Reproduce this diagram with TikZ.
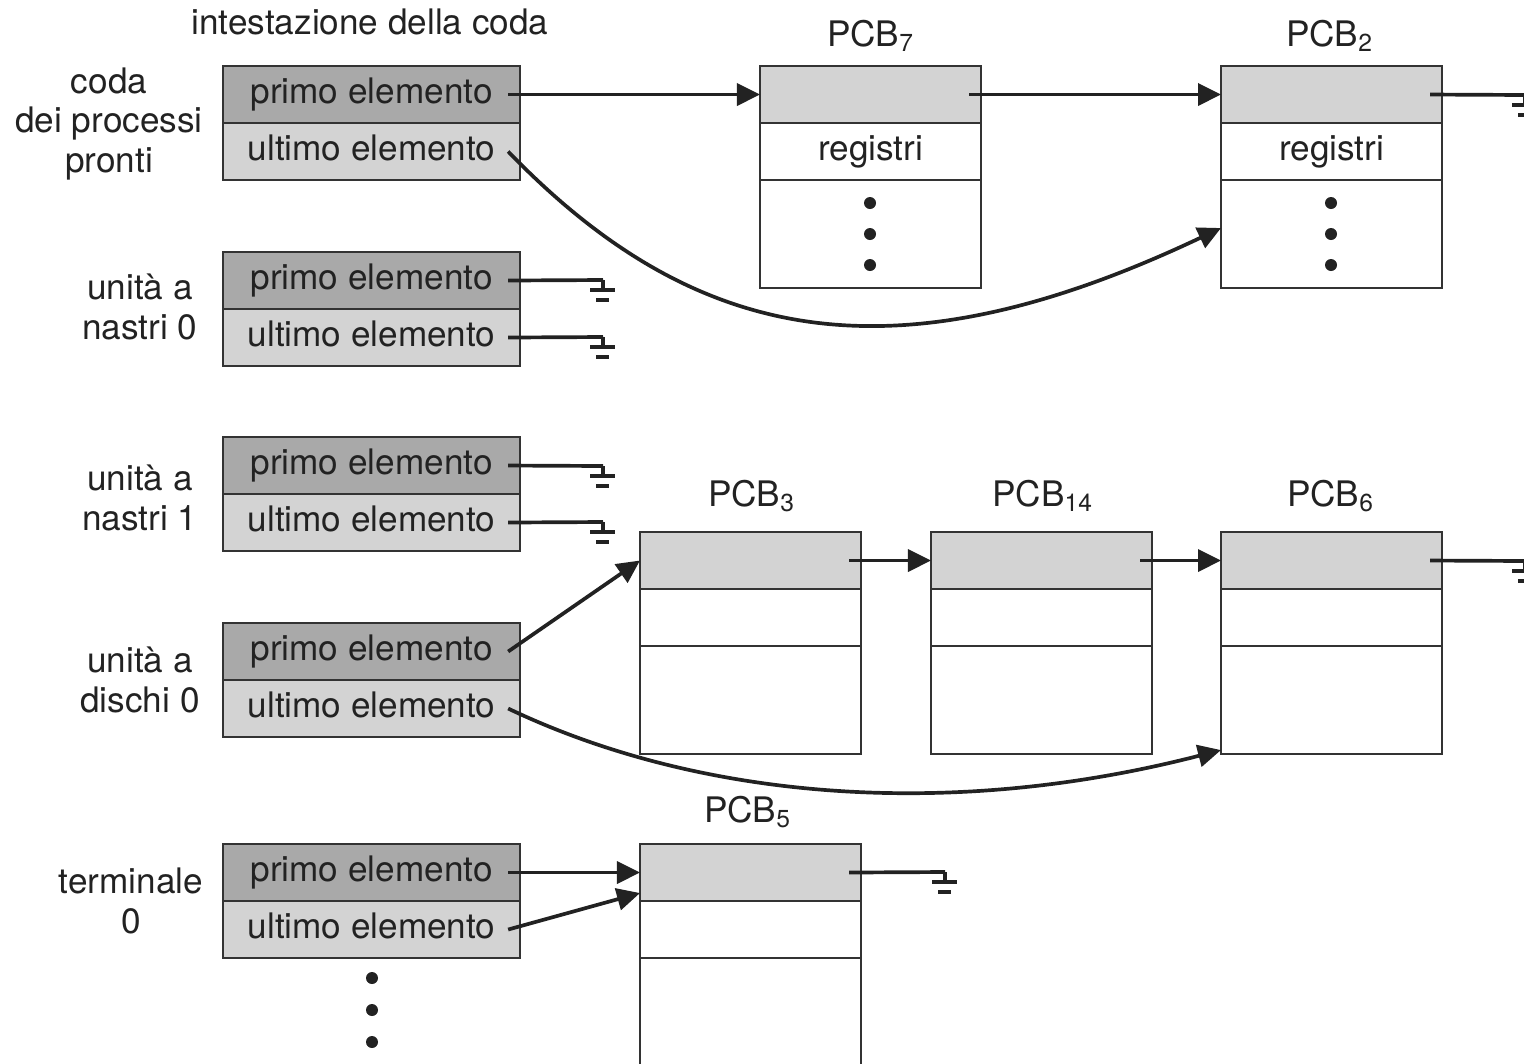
\documentclass[tikz,border=0pt]{standalone}
\usepackage{fontspec}
\setmainfont{TeX Gyre Heros}
\usetikzlibrary{arrows.meta}
\definecolor{headdark}{HTML}{A9A9A9}
\definecolor{headlight}{HTML}{D3D3D3}
\definecolor{edge}{HTML}{333333}
\definecolor{ink}{HTML}{222222}

\begin{document}
\begin{tikzpicture}[x=0.01cm,y=-0.01cm,
  every node/.style={font=\fontsize{10}{11.2}\selectfont, text=ink},
  cellbase/.style={draw=edge, line width=0.7pt, inner sep=0pt, outer sep=0pt,
    anchor=north west, text height=7.2pt, text depth=2pt},
  hcell/.style={cellbase, minimum width=2.97cm, minimum height=0.57cm},
  firstcell/.style={hcell, fill=headdark},
  lastcell/.style={hcell, fill=headlight},
  pcbtop/.style={cellbase, fill=headlight, minimum width=2.21cm, minimum height=0.57cm},
  pcbmid/.style={cellbase, fill=white, minimum width=2.21cm, minimum height=0.57cm},
  pcbbot/.style={cellbase, fill=white, minimum width=2.21cm, minimum height=1.08cm},
  qlabel/.style={align=center, inner sep=0pt},
  pcblabel/.style={inner sep=0pt},
  wire/.style={draw=ink, line width=1.05pt},
  arr/.style={wire, -{Triangle[length=0.23cm,width=0.22cm]}},
  dot/.style={fill=ink, draw=none},
  gnd/.pic={
    \draw[ink, line width=1.05pt] (0,0) -- (0,10) (-13,10) -- (12,10);
    \draw[ink, line width=1.4pt] (-7,20) -- (6,20);
  }
]
\useasboundingbox (0,0) rectangle (1524,1063);
\clip (0,0) rectangle (1524,1063);

% queue headers
\node[qlabel] (title) at (370,22) {intestazione della coda};

\node[firstcell] (rqF) at (223,66)  {primo elemento};
\node[lastcell]  (rqL) at (223,123) {ultimo elemento};
\node[qlabel] (rqN) at (109,124) {coda\\dei processi\\pronti};

\node[firstcell] (t0F) at (223,252) {primo elemento};
\node[lastcell]  (t0L) at (223,309) {ultimo elemento};
\node[qlabel] (t0N) at (140,307) {unità a\\nastri 0};

\node[firstcell] (t1F) at (223,437) {primo elemento};
\node[lastcell]  (t1L) at (223,494) {ultimo elemento};
\node[qlabel] (t1N) at (140,498) {unità a\\nastri 1};

\node[firstcell] (d0F) at (223,623) {primo elemento};
\node[lastcell]  (d0L) at (223,680) {ultimo elemento};
\node[qlabel] (d0N) at (140,680) {unità a\\dischi 0};

\node[firstcell] (tmF) at (223,844) {primo elemento};
\node[lastcell]  (tmL) at (223,901) {ultimo elemento};
\node[qlabel] (tmN) at (131,901) {terminale\\0};

\foreach \yy in {978,1010,1042} \fill[dot] (372,\yy) circle (6);

% process control blocks
\node[pcbtop] (p7a) at (760,66)  {};
\node[pcbmid] (p7b) at (760,123) {registri};
\node[pcbbot] (p7c) at (760,180) {};
\node[pcblabel] (p7n) at (871,36) {PCB\textsubscript{7}};
\foreach \yy in {203,234,265} \fill[dot] (870,\yy) circle (6);

\node[pcbtop] (p2a) at (1221,66)  {};
\node[pcbmid] (p2b) at (1221,123) {registri};
\node[pcbbot] (p2c) at (1221,180) {};
\node[pcblabel] (p2n) at (1330,36) {PCB\textsubscript{2}};
\foreach \yy in {203,234,265} \fill[dot] (1331,\yy) circle (6);

\node[pcbtop] (p3a) at (640,532) {};
\node[pcbmid] (p3b) at (640,589) {};
\node[pcbbot] (p3c) at (640,646) {};
\node[pcblabel] (p3n) at (752,496) {PCB\textsubscript{3}};

\node[pcbtop] (p14a) at (931,532) {};
\node[pcbmid] (p14b) at (931,589) {};
\node[pcbbot] (p14c) at (931,646) {};
\node[pcblabel] (p14n) at (1043,496) {PCB\textsubscript{14}};

\node[pcbtop] (p6a) at (1221,532) {};
\node[pcbmid] (p6b) at (1221,589) {};
\node[pcbbot] (p6c) at (1221,646) {};
\node[pcblabel] (p6n) at (1331,496) {PCB\textsubscript{6}};

\node[pcbtop] (p5a) at (640,844) {};
\node[pcbmid] (p5b) at (640,901) {};
\node[pcbbot, minimum height=1.3cm] (p5c) at (640,958) {};
\node[pcblabel] (p5n) at (748,812) {PCB\textsubscript{5}};

% ground terminations
\coordinate (gT0F) at (603,280);
\coordinate (gT0L) at (603,337);
\coordinate (gT1F) at (603,466);
\coordinate (gT1L) at (603,522);
\coordinate (gP2)  at (1525,95);
\coordinate (gP6)  at (1525,561);
\coordinate (gP5)  at (945,872);
\foreach \g in {gT0F,gT0L,gT1F,gT1L,gP2,gP6,gP5} \pic at (\g) {gnd};

% ready queue
\draw[arr] ([xshift=-0.12cm]rqF.east) -- (p7a.west);
\draw[arr] ([xshift=-0.12cm]p7a.east) -- (p2a.west);
\draw[wire] ([xshift=-0.12cm]p2a.east) -- (gP2);
\draw[arr] ([xshift=-0.12cm]rqL.east) .. controls (700,350) and (900,380) .. ([yshift=0.06cm]p2c.west);

% tape units
\draw[wire] ([xshift=-0.12cm]t0F.east) -- (gT0F);
\draw[wire] ([xshift=-0.12cm]t0L.east) -- (gT0L);
\draw[wire] ([xshift=-0.12cm]t1F.east) -- (gT1F);
\draw[wire] ([xshift=-0.12cm]t1L.east) -- (gT1L);

% disk unit
\draw[arr] ([xshift=-0.12cm]d0F.east) -- (p3a.west);
\draw[arr] ([xshift=-0.12cm]p3a.east) -- (p14a.west);
\draw[arr] ([xshift=-0.12cm]p14a.east) -- (p6a.west);
\draw[wire] ([xshift=-0.12cm]p6a.east) -- (gP6);
\draw[arr] ([xshift=-0.12cm]d0L.east) .. controls (700,800) and (950,820) .. ([yshift=0.04cm]p6c.south west);

% terminal
\draw[arr] ([xshift=-0.12cm]tmF.east) -- (p5a.west);
\draw[arr] ([xshift=-0.12cm]tmL.east) -- ([yshift=0.08cm]p5a.south west);
\draw[wire] ([xshift=-0.12cm]p5a.east) -- (gP5);
\end{tikzpicture}
\end{document}
